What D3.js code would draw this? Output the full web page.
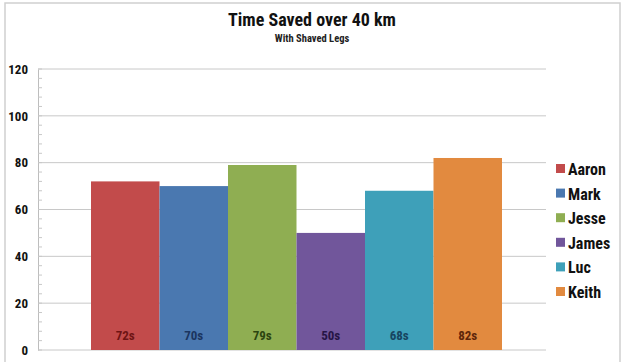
<!DOCTYPE html>
<html><head><meta charset="utf-8">
<script src="https://cdn.jsdelivr.net/npm/d3@7"></script>
<style>
body{margin:0;background:#fff;}
text{font-family:"Liberation Sans Narrow","Roboto Condensed","Liberation Sans",Arial,sans-serif;font-weight:bold;}
</style></head>
<body><svg id="c" width="633" height="362"></svg>
<script>
const names = ["Aaron","Mark","Jesse","James","Luc","Keith"];
const values = [72,70,79,50,68,82];
const labels = ["72s","70s","79s","50s","68s","82s"];
const colors = ["#c24b4b","#4a78b0","#8fae52","#71569b","#3ea0b9","#e28a3f"];
const labelColors = ["#6e1414","#1b3560","#2c4510","#261545","#174560","#5e260a"];
const yTicks = [0,20,40,60,80,100,120];

const svg = d3.select("#c");
const m = {l:38, r:546, t:69, b:350};
// chart border
svg.append("rect").attr("x",5).attr("y",3).attr("width",615).attr("height",370)
  .attr("fill","none").attr("stroke","#cfcfcf").attr("stroke-width",1.5);

const y = d3.scaleLinear().domain([0,120]).range([m.b,m.t]);
const x = d3.scaleBand().domain(names).range([91,502]).padding(0);

// gridlines
svg.append("g").selectAll("line").data(yTicks).join("line")
  .attr("x1",m.l).attr("x2",m.r).attr("y1",d=>y(d)).attr("y2",d=>y(d))
  .attr("stroke","#c8c8c8").attr("stroke-width",1);

// y axis
const ax = svg.append("g").attr("transform",`translate(${m.l},0)`)
  .call(d3.axisLeft(y).tickValues(yTicks).tickSize(0).tickPadding(10));
ax.select(".domain").attr("stroke","#bdbdbd");
ax.selectAll("text").attr("font-size",13).attr("fill","#111")
  .attr("font-family","'Liberation Sans Narrow','Roboto Condensed','Liberation Sans',sans-serif").attr("font-weight","bold");
// minor ticks
svg.append("g").selectAll("line").data(d3.range(0,121,4)).join("line")
  .attr("x1",m.l).attr("x2",m.l+4).attr("y1",d=>y(d)).attr("y2",d=>y(d))
  .attr("stroke","#c8c8c8");

// bars
svg.append("g").selectAll("rect").data(names).join("rect")
  .attr("x",d=>x(d)).attr("width",x.bandwidth())
  .attr("y",(d,i)=>y(values[i])).attr("height",(d,i)=>y(0)-y(values[i]))
  .attr("fill",(d,i)=>colors[i]);

// value labels
svg.append("g").selectAll("text").data(names).join("text")
  .attr("x",d=>x(d)+x.bandwidth()/2).attr("y",340)
  .attr("text-anchor","middle").attr("font-size",13)
  .attr("fill",(d,i)=>labelColors[i]).text((d,i)=>labels[i]);

// title
svg.append("text").attr("x",312).attr("y",26).attr("text-anchor","middle")
  .attr("font-size",18).attr("fill","#111").text("Time Saved over 40 km");
svg.append("text").attr("x",312).attr("y",42).attr("text-anchor","middle")
  .attr("font-size",10.5).attr("fill","#222").text("With Shaved Legs");

// legend
const lg = svg.append("g").selectAll("g").data(names).join("g")
  .attr("transform",(d,i)=>`translate(556,${169+i*24.6})`);
lg.append("rect").attr("x",0).attr("y",-5).attr("width",9).attr("height",9)
  .attr("fill",(d,i)=>colors[i]);
lg.append("text").attr("x",12).attr("y",6).attr("font-size",16).attr("fill","#111").text(d=>d);
</script></body></html>
